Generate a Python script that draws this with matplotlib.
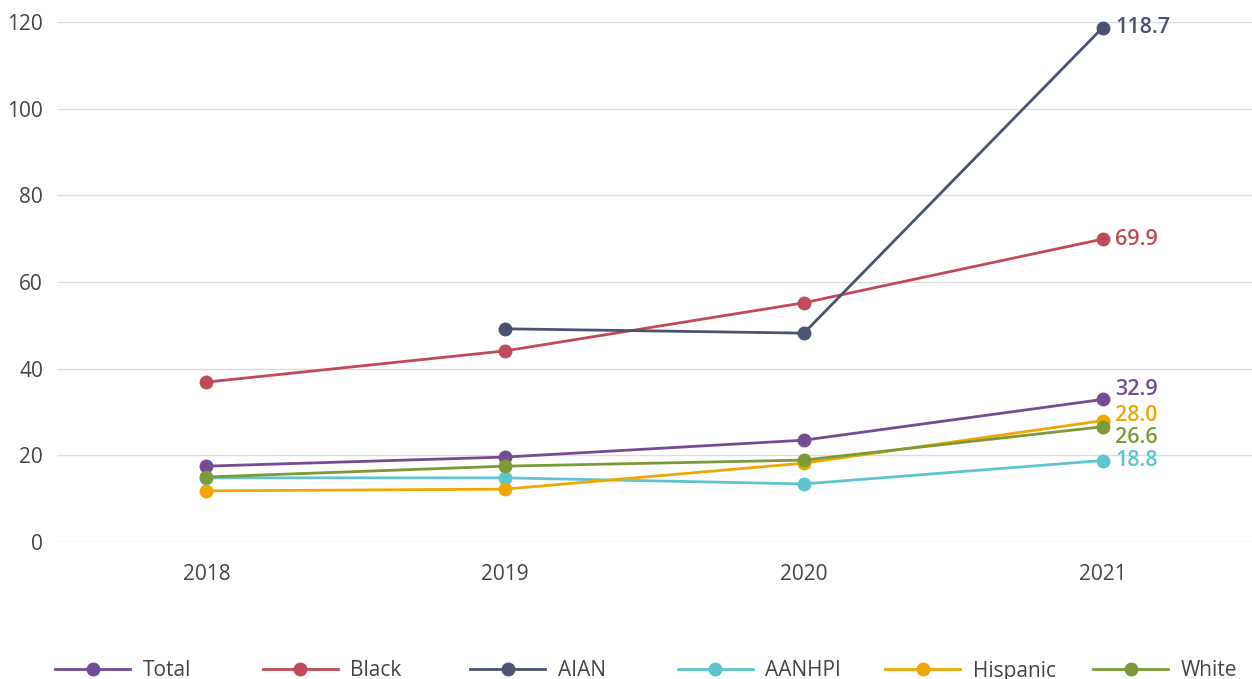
import numpy as np
import matplotlib
matplotlib.use("Agg")
from matplotlib import pyplot as plt

plt.rcParams['font.family'] = ['Open Sans', 'DejaVu Sans']

years = [2018, 2019, 2020, 2021]
series_names = ["Total", "Black", "AIAN", "AANHPI", "Hispanic", "White"]
total = [17.5, 19.6, 23.5, 32.9]
black = [36.9, 44.1, 55.2, 69.9]
aian = [np.nan, 49.2, 48.2, 118.7]
aanhpi = [14.8, 14.8, 13.4, 18.8]
hispanic = [11.8, 12.2, 18.2, 28.0]
white = [15.0, 17.5, 18.9, 26.6]
colors = ["#734C91", "#C04A5A", "#4A5270", "#5EC4CF", "#F0A800", "#7D9A38"]
yticks = [0, 20, 40, 60, 80, 100, 120]

values = [total, black, aian, aanhpi, hispanic, white]
# label offsets (points) to avoid overlap at 2021
label_dy = {"Total": 7, "Hispanic": 4, "White": -8}

fig = plt.figure(figsize=(12.52, 6.79), dpi=100)
ax = fig.add_axes([57 / 1252, 137 / 679, 1195 / 1252, 520 / 679])

handles = []
for name, vals, c in zip(series_names, values, colors):
    h, = ax.plot(years, vals, color=c, lw=2, marker='o', ms=9, label=name,
                 clip_on=False, zorder=3)
    handles.append(h)
    ax.annotate(f"{vals[-1]:.1f}", (years[-1], vals[-1]),
                xytext=(9, label_dy.get(name, 0)), textcoords='offset points',
                color=c, fontsize=15.5, fontweight='semibold', va='center', ha='left')

ax.set_xlim(2017.5, 2021.5)
ax.set_ylim(0, 120)
ax.set_xticks(years)
ax.set_yticks(yticks)
ax.grid(axis='y', color='#DDDDDD', lw=1)
ax.set_axisbelow(True)
for s in ax.spines.values():
    s.set_visible(False)
ax.tick_params(length=0, labelsize=15, labelcolor='#444444')
ax.tick_params(axis='x', pad=16)
ax.tick_params(axis='y', pad=10)

# evenly spaced legend entries along the bottom
for i, h in enumerate(handles):
    x0 = (55 + i * 207.6) / 1252
    fig.legend([h], [h.get_label()], loc='center left', bbox_to_anchor=(x0, 8 / 679),
               frameon=False, fontsize=15, handlelength=3.6, handletextpad=0.6,
               labelcolor='#444444', borderaxespad=0, borderpad=0)

fig.savefig("out.png", dpi=100)
